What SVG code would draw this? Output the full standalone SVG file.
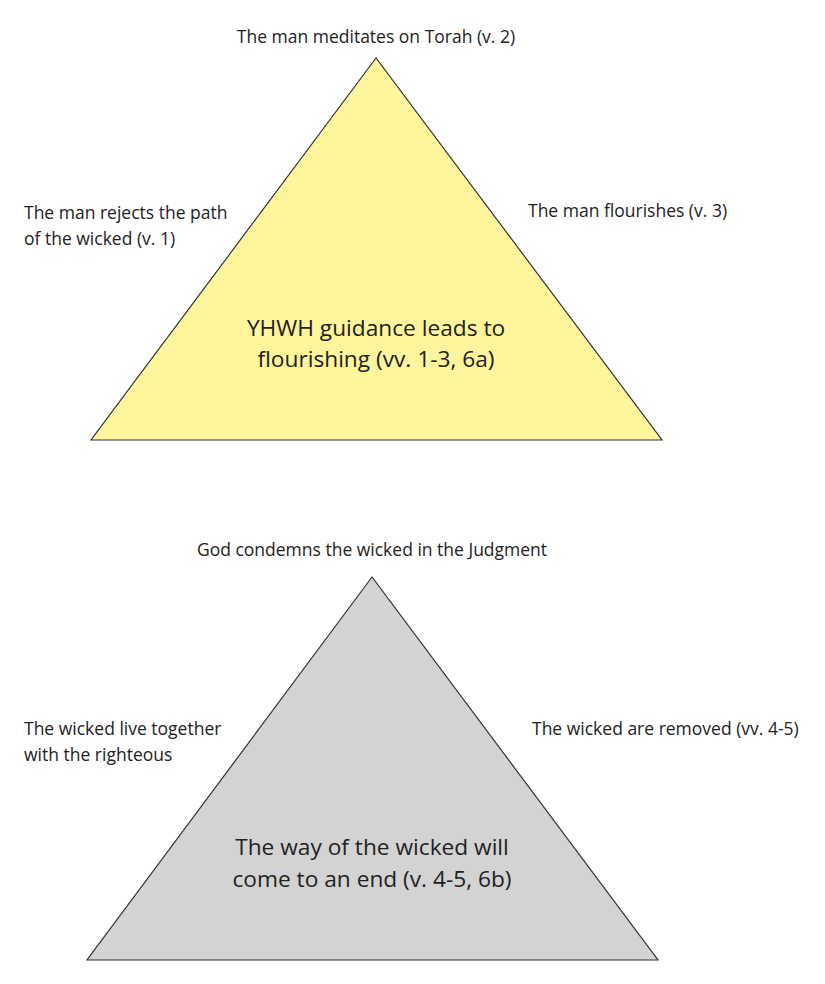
<svg xmlns="http://www.w3.org/2000/svg" width="825" height="984" viewBox="0 0 825 984">
<style>
text{font-family:"Open Sans","Noto Sans","Liberation Sans",sans-serif;fill:#222}
.s{font-size:17.5px}
.b{font-size:22.7px;text-anchor:middle}
.c{text-anchor:middle}
.tri{stroke:#333;stroke-width:1.2}
</style>
<rect width="825" height="984" fill="#fff"/>
<g id="top-triangle">
<polygon class="tri" points="376,58 91,440 662,440" fill="#fff59d"/>
<text class="b" x="376" y="336">YHWH guidance leads to</text>
<text class="b" x="376" y="367">flourishing (vv. 1-3, 6a)</text>
</g>
<g id="top-apex"><text class="s c" x="376" y="43">The man meditates on Torah (v. 2)</text></g>
<g id="top-left"><text class="s" x="24" y="219">The man rejects the path</text><text class="s" x="24" y="245">of the wicked (v. 1)</text></g>
<g id="top-right"><text class="s" x="528" y="217">The man flourishes (v. 3)</text></g>
<g id="bottom-triangle">
<polygon class="tri" points="372,577 87,960 658,960" fill="#d3d3d3"/>
<text class="b" x="372" y="855">The way of the wicked will</text>
<text class="b" x="372" y="887">come to an end (v. 4-5, 6b)</text>
</g>
<g id="bottom-apex"><text class="s c" x="372" y="556">God condemns the wicked in the Judgment</text></g>
<g id="bottom-left"><text class="s" x="24" y="735">The wicked live together</text><text class="s" x="24" y="761">with the righteous</text></g>
<g id="bottom-right"><text class="s" x="532" y="735">The wicked are removed (vv. 4-5)</text></g>
<g id="connectors"/>
</svg>
